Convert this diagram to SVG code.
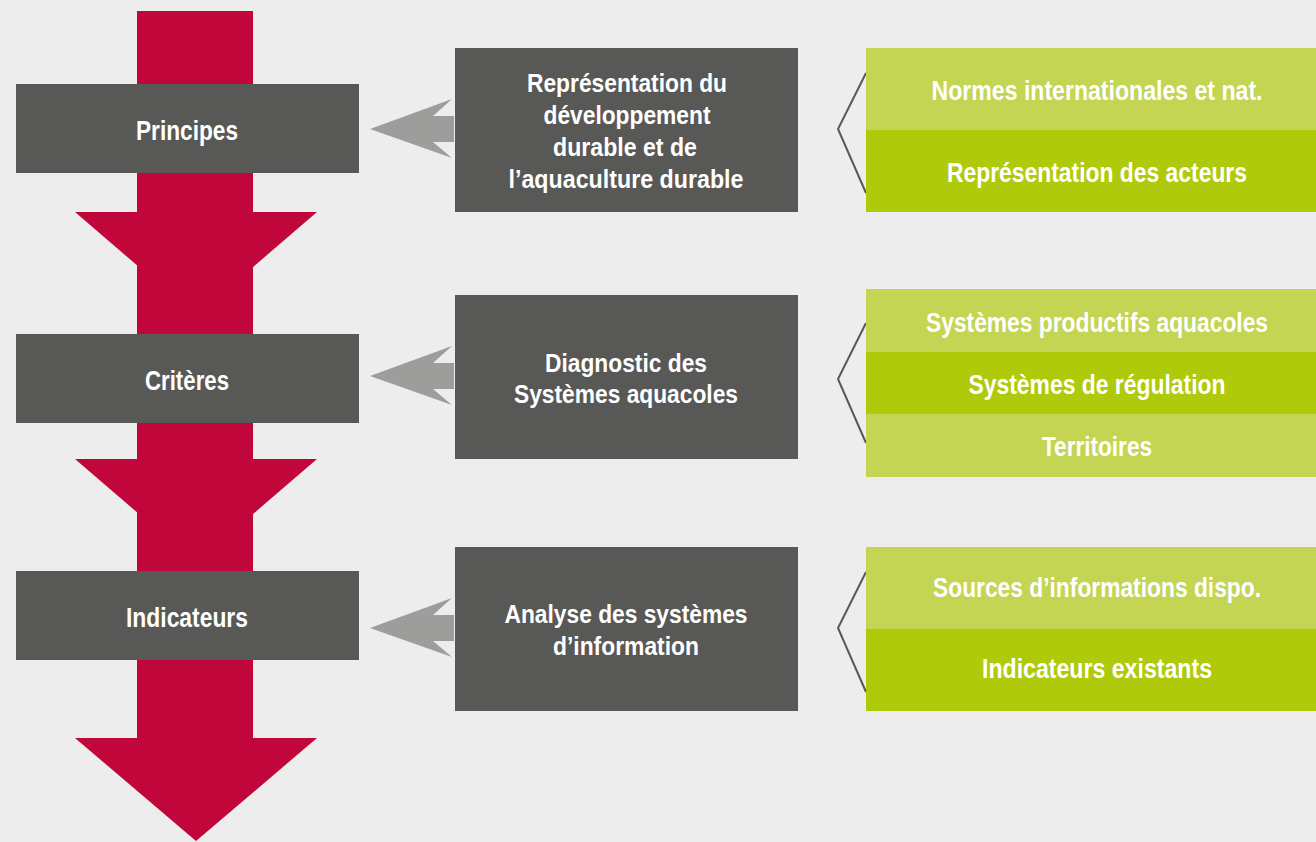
<svg xmlns="http://www.w3.org/2000/svg" width="1316" height="842" viewBox="0 0 1316 842">
<style>
.t{font-family:"Liberation Sans",Arial,sans-serif;font-weight:bold;fill:#ffffff;text-anchor:middle}
.big{font-size:28px}
.mid{font-size:26px}
.dark{fill:#585856}
.gl{fill:#c4d554}
.gd{fill:#afca0b}
.red{fill:#c0063b}
.garr{fill:#9d9d9b}
.br{fill:none;stroke:#585856;stroke-width:2}
</style>
<defs>
<polygon id="ga" points="370,0 452,-30 433,-13 454,-13 454,13 433,13 452,29"/>
</defs>
<rect width="1316" height="842" fill="#ededed"/>
<g id="flow">
<rect class="red" x="137" y="11" width="116" height="728"/>
<polygon class="red" points="75,212 317,212 196,316"/>
<polygon class="red" points="75,459 317,459 196,563"/>
<polygon class="red" points="75,738 317,738 196,841"/>
</g>
<g id="connectors">
<use href="#ga" class="garr" transform="translate(0,129)"/>
<use href="#ga" class="garr" transform="translate(0,376)"/>
<use href="#ga" class="garr" transform="translate(0,628)"/>
<polyline class="br" points="866,73 838,129 866,193"/>
<polyline class="br" points="866,323 838,379 866,443"/>
<polyline class="br" points="866,572 838,628 866,692"/>
</g>
<g id="principes">
<rect class="dark" x="16" y="84" width="343" height="89"/>
<text class="t big" x="187" y="140" textLength="102" lengthAdjust="spacingAndGlyphs">Principes</text>
</g>
<g id="criteres">
<rect class="dark" x="16" y="334" width="343" height="89"/>
<text class="t big" x="187" y="390" textLength="84" lengthAdjust="spacingAndGlyphs">Critères</text>
</g>
<g id="indicateurs">
<rect class="dark" x="16" y="571" width="343" height="89"/>
<text class="t big" x="187" y="627" textLength="122" lengthAdjust="spacingAndGlyphs">Indicateurs</text>
</g>
<g id="representation">
<rect class="dark" x="455" y="48" width="343" height="164"/>
<text class="t mid" x="627" y="92" textLength="200" lengthAdjust="spacingAndGlyphs">Représentation du</text>
<text class="t mid" x="627" y="124" textLength="167" lengthAdjust="spacingAndGlyphs">développement</text>
<text class="t mid" x="625" y="156" textLength="144" lengthAdjust="spacingAndGlyphs">durable et de</text>
<text class="t mid" x="626" y="188" textLength="235" lengthAdjust="spacingAndGlyphs">l’aquaculture durable</text>
</g>
<g id="diagnostic">
<rect class="dark" x="455" y="295" width="343" height="164"/>
<text class="t mid" x="626" y="372" textLength="162" lengthAdjust="spacingAndGlyphs">Diagnostic des</text>
<text class="t mid" x="626" y="403" textLength="224" lengthAdjust="spacingAndGlyphs">Systèmes aquacoles</text>
</g>
<g id="analyse">
<rect class="dark" x="455" y="547" width="343" height="164"/>
<text class="t mid" x="626" y="623" textLength="243" lengthAdjust="spacingAndGlyphs">Analyse des systèmes</text>
<text class="t mid" x="626" y="655" textLength="146" lengthAdjust="spacingAndGlyphs">d’information</text>
</g>
<g id="normes">
<rect class="gl" x="866" y="48" width="450" height="82"/>
<text class="t big" x="1097" y="100" textLength="331" lengthAdjust="spacingAndGlyphs">Normes internationales et nat.</text>
</g>
<g id="acteurs">
<rect class="gd" x="866" y="130" width="450" height="82"/>
<text class="t big" x="1097" y="182" textLength="300" lengthAdjust="spacingAndGlyphs">Représentation des acteurs</text>
</g>
<g id="productifs">
<rect class="gl" x="866" y="289" width="450" height="63"/>
<text class="t big" x="1097" y="332" textLength="342" lengthAdjust="spacingAndGlyphs">Systèmes productifs aquacoles</text>
</g>
<g id="regulation">
<rect class="gd" x="866" y="352" width="450" height="62"/>
<text class="t big" x="1097" y="394" textLength="257" lengthAdjust="spacingAndGlyphs">Systèmes de régulation</text>
</g>
<g id="territoires">
<rect class="gl" x="866" y="414" width="450" height="63"/>
<text class="t big" x="1097" y="456" textLength="110" lengthAdjust="spacingAndGlyphs">Territoires</text>
</g>
<g id="sources">
<rect class="gl" x="866" y="547" width="450" height="82"/>
<text class="t big" x="1097" y="597" textLength="328" lengthAdjust="spacingAndGlyphs">Sources d’informations dispo.</text>
</g>
<g id="existants">
<rect class="gd" x="866" y="629" width="450" height="82"/>
<text class="t big" x="1097" y="678" textLength="230" lengthAdjust="spacingAndGlyphs">Indicateurs existants</text>
</g>
</svg>
